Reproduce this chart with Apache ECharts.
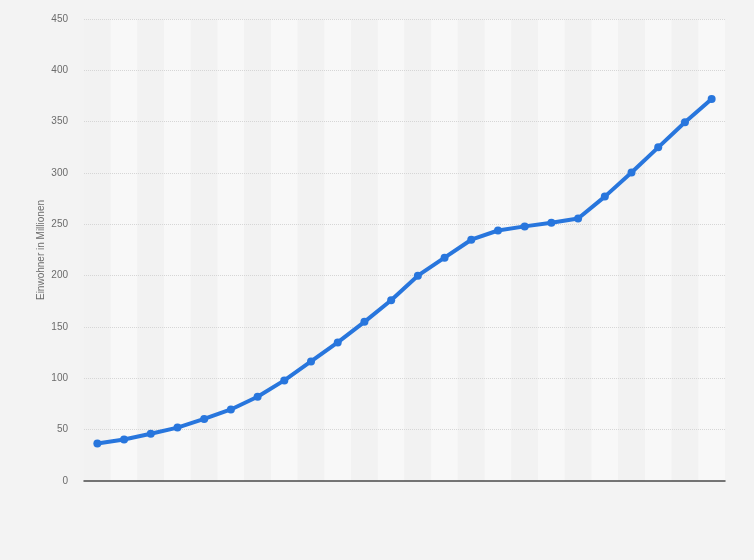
<!DOCTYPE html>
<html>
<head>
<meta charset="utf-8">
<script src="https://cdn.jsdelivr.net/npm/echarts@6/dist/echarts.min.js"></script>
<style>
  html, body { margin: 0; padding: 0; background: #f3f3f3; }
  #chart { width: 754px; height: 560px; }
</style>
</head>
<body>
<div id="chart"></div>
<script>
// Einwohner in Millionen, 24 Zeitpunkte (keine Achsenbeschriftung im Original)
const categories = ['1', '2', '3', '4', '5', '6', '7', '8', '9', '10', '11', '12',
  '13', '14', '15', '16', '17', '18', '19', '20', '21', '22', '23', '24'];
const population = [36.5, 40.4, 46, 52, 60.5, 69.7, 82, 98, 116.5, 135, 155, 176,
  200, 217.5, 235, 244, 248, 251.5, 255.7, 277, 300.5, 325, 349.5, 372];
const yTicks = { min: 0, max: 450, interval: 50 };

const FONT = '"Liberation Sans", Arial, sans-serif';
const lineColor = '#2876dd';

const chart = echarts.init(document.getElementById('chart'));
chart.setOption({
  animation: false,
  backgroundColor: '#f3f3f3',
  grid: { left: 84, right: 29, top: 19, bottom: 79 },
  xAxis: {
    type: 'category',
    data: categories,
    boundaryGap: true,
    z: 0,
    axisLine: { show: true, lineStyle: { color: '#4a4a4a', width: 1.5 } },
    axisTick: { show: false },
    axisLabel: { show: false },
    splitArea: { show: true, areaStyle: { color: ['#f2f2f2', '#f8f8f8'] } },
    splitLine: { show: false },
  },
  yAxis: {
    type: 'value',
    min: yTicks.min,
    max: yTicks.max,
    interval: yTicks.interval,
    z: 1,
    name: 'Einwohner in Millionen',
    nameLocation: 'middle',
    nameMoveOverlap: false,
    nameGap: 38,
    nameTextStyle: { color: '#6b6b6b', fontSize: 10, fontFamily: FONT },
    axisLine: { show: false },
    axisTick: { show: false },
    axisLabel: { color: '#6b6b6b', fontSize: 10, fontFamily: FONT, margin: 16 },
    splitLine: { showMinLine: false, lineStyle: { color: '#d6d6d6', type: [1, 1], width: 1 } },
  },
  series: [{
    name: 'Einwohner',
    type: 'line',
    data: population,
    symbol: 'circle',
    symbolSize: 8,
    color: lineColor,
    itemStyle: { color: lineColor },
    lineStyle: { color: lineColor, width: 4 },
    z: 3,
  }],
});
</script>
</body>
</html>
